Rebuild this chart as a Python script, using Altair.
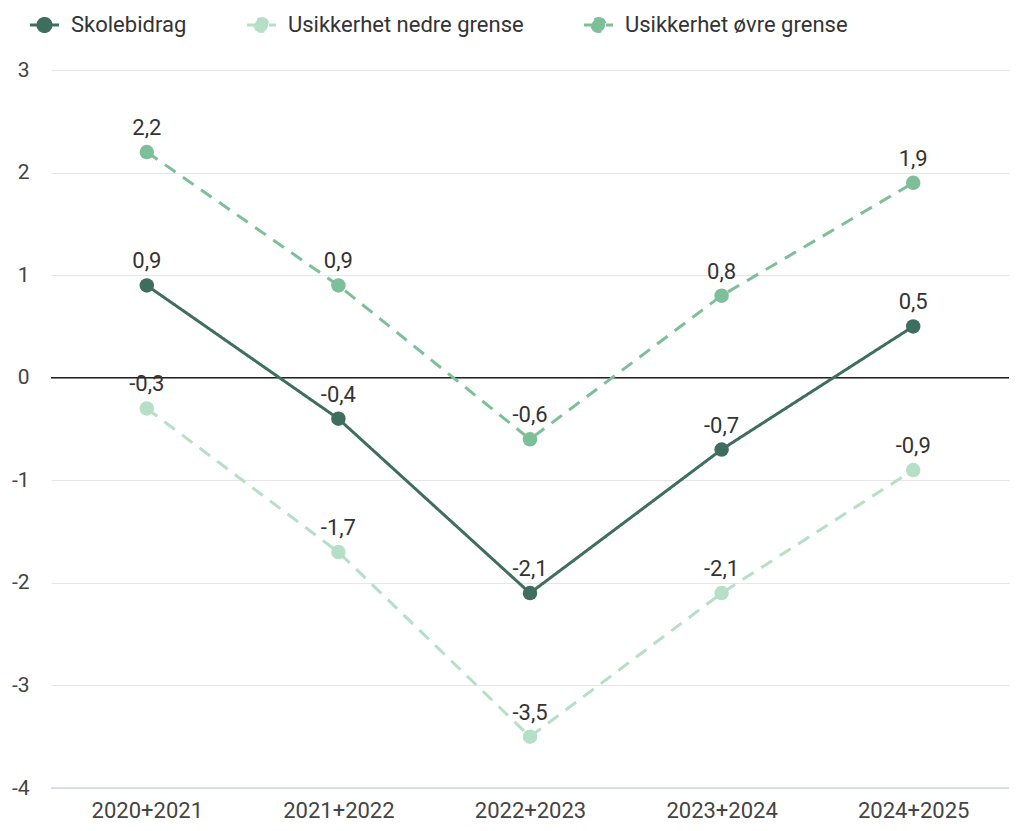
import altair as alt
import pandas as pd

categories = ["2020+2021", "2021+2022", "2022+2023", "2023+2024", "2024+2025"]
skolebidrag = [0.9, -0.4, -2.1, -0.7, 0.5]
nedre = [-0.3, -1.7, -3.5, -2.1, -0.9]
ovre = [2.2, 0.9, -0.6, 0.8, 1.9]
series_names = ["Skolebidrag", "Usikkerhet nedre grense", "Usikkerhet øvre grense"]
colors = ["#3f6e5e", "#b5dfc6", "#7dbf98"]
reference_lines = [0, -4]
reference_colors = ["#222222", "#ccd6eb"]

rows = []
for name, vals in zip(series_names, [skolebidrag, nedre, ovre]):
    for c, v in zip(categories, vals):
        rows.append({"kategori": c, "verdi": v, "serie": name,
                     "etikett": f"{v:.1f}".replace(".", ",")})
df = pd.DataFrame(rows)
ref_df = pd.DataFrame({"verdi": reference_lines, "farge": reference_colors})

FONT = "Roboto"
x = alt.X("kategori:N", sort=categories, title=None,
          scale=alt.Scale(type="point", padding=0.5),
          axis=alt.Axis(labelAngle=0, labelFontSize=22, labelColor="#444",
                        labelFont=FONT, ticks=False, domain=False, grid=False,
                        labelPadding=12))
y = alt.Y("verdi:Q", title=None,
          scale=alt.Scale(domain=[-4, 3], nice=False, zero=False),
          axis=alt.Axis(values=[-4, -3, -2, -1, 0, 1, 2, 3], labelFontSize=21,
                        labelColor="#444", labelFont=FONT, ticks=False,
                        domain=False, gridColor="#e6e6e6", labelPadding=22,
                        labelExpr="'' + datum.value"))
color = alt.Color("serie:N", scale=alt.Scale(domain=series_names, range=colors),
                  legend=alt.Legend(title=None, orient="none", direction="horizontal",
                                    legendX=-23, legendY=-62,
                                    labelFontSize=22, labelFont=FONT, labelLimit=0,
                                    labelColor="#333", columnPadding=53, labelOffset=10,
                                    symbolType="M -1 0 L 1 0 M -0.45 0 A 0.45 0.45 0 1 0 0.45 0 A 0.45 0.45 0 1 0 -0.45 0",
                                    symbolSize=850, symbolStrokeWidth=3))
dash = alt.StrokeDash("serie:N", scale=alt.Scale(domain=series_names,
                      range=[[1, 0], [13, 9], [13, 9]]), legend=None)

base = alt.Chart(df)
lines = base.mark_line(strokeWidth=3).encode(x=x, y=y, color=color, strokeDash=dash,
                                             detail="serie:N")
points = base.mark_circle(size=210, opacity=1).encode(
    x=x, y=y,
    color=alt.Color("serie:N", scale=alt.Scale(domain=series_names, range=colors), legend=None))
labels = base.mark_text(fontSize=22, font=FONT, color="#333", baseline="middle",
                        dy=-24).encode(x=x, y=y, text="etikett:N")

rules = alt.Chart(ref_df).mark_rule(strokeWidth=1.5).encode(
    y=y, stroke=alt.Stroke("farge:N", scale=None, legend=None))

chart = alt.layer(rules, lines, points, labels).properties(
    width=958, height=718, padding={"left": 3, "top": 0, "right": 0, "bottom": 0}
).configure(font=FONT).configure_view(strokeWidth=0).configure_axis(
    domain=False
).configure_axisX(grid=False)

chart.save("out.html", embed_options={"renderer": "svg", "actions": False})
